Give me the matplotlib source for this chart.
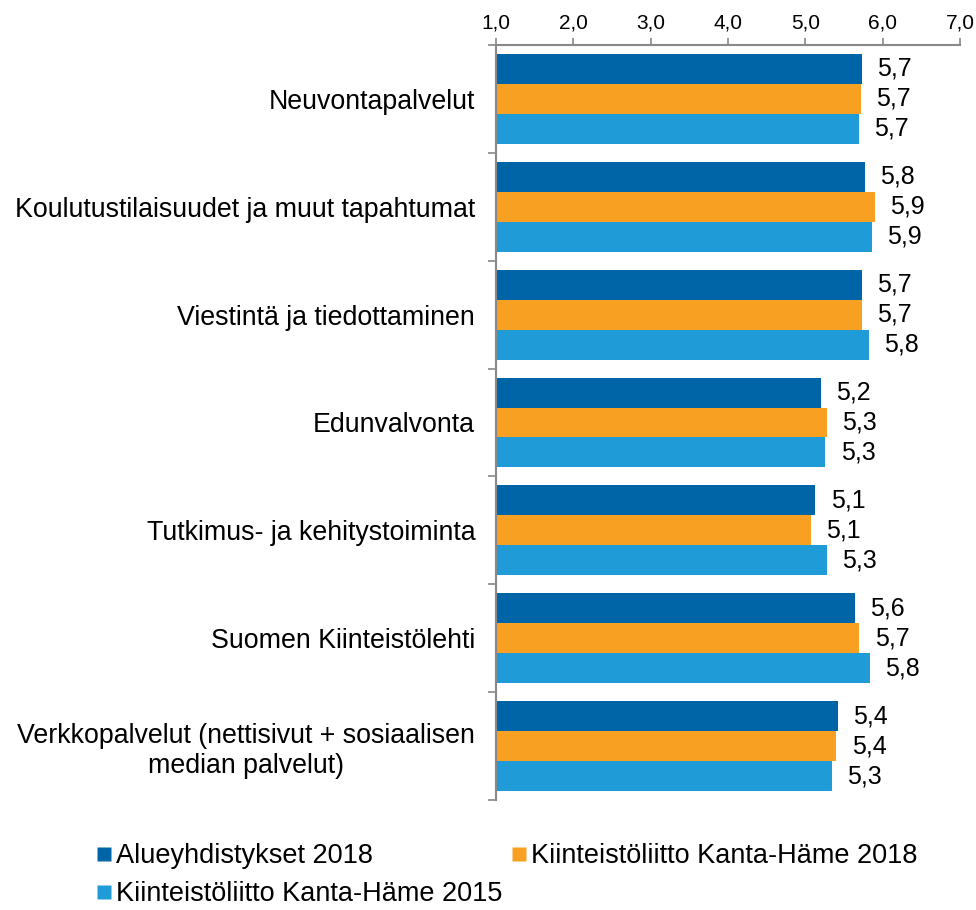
import matplotlib
matplotlib.use("Agg")
import matplotlib.pyplot as plt
import numpy as np
from matplotlib.lines import Line2D

plt.rcParams['font.family'] = ['Liberation Sans', 'DejaVu Sans']

categories = [
    "Neuvontapalvelut",
    "Koulutustilaisuudet ja muut tapahtumat",
    "Viestintä ja tiedottaminen",
    "Edunvalvonta",
    "Tutkimus- ja kehitystoiminta",
    "Suomen Kiinteistölehti",
    "Verkkopalvelut (nettisivut + sosiaalisen\nmedian palvelut)",
]
series_names = ["Alueyhdistykset 2018", "Kiinteistöliitto Kanta-Häme 2018", "Kiinteistöliitto Kanta-Häme 2015"]
alue_2018 = [5.73, 5.77, 5.73, 5.20, 5.13, 5.64, 5.42]
kh_2018 = [5.72, 5.90, 5.73, 5.28, 5.07, 5.70, 5.40]
kh_2015 = [5.69, 5.86, 5.82, 5.26, 5.28, 5.83, 5.34]
labels_alue = ["5,7", "5,8", "5,7", "5,2", "5,1", "5,6", "5,4"]
labels_kh18 = ["5,7", "5,9", "5,7", "5,3", "5,1", "5,7", "5,4"]
labels_kh15 = ["5,7", "5,9", "5,8", "5,3", "5,3", "5,8", "5,3"]
xticks = [1, 2, 3, 4, 5, 6, 7]
xticklabels = ["1,0", "2,0", "3,0", "4,0", "5,0", "6,0", "7,0"]

colors = ["#0065A7", "#F7A021", "#1F9BD7"]

fig = plt.figure(figsize=(9.76, 9.10), dpi=100)
ax = fig.add_axes([496/976, 1-800/910, (960-496)/976, (800-45)/910])

n = len(categories)
y = np.arange(n)
h = 0.278
series = [alue_2018, kh_2018, kh_2015]
labs = [labels_alue, labels_kh18, labels_kh15]
for i, (vals, lab, c) in enumerate(zip(series, labs, colors)):
    pos = y + (i - 1) * h
    ax.barh(pos, np.array(vals) - 1, left=1, height=h, color=c, edgecolor='none')
    for p, v, t in zip(pos, vals, lab):
        ax.annotate(t, (v, p), xytext=(11, 0), textcoords='offset points',
                    va='center', ha='left', fontsize=18)

ax.set_xlim(1, 7)
ax.set_ylim(n - 0.5, -0.5)
ax.xaxis.tick_top()
ax.set_xticks(xticks)
ax.set_xticklabels(xticklabels, fontsize=15)
ax.tick_params(axis='x', direction='out', length=5, color='#888888', width=1.2, pad=4)

ax.set_yticks(y)
ax.set_yticklabels(categories, fontsize=19.3, multialignment='center')
ax.tick_params(axis='y', which='major', length=0, pad=15)
ax.set_yticks(np.arange(n + 1) - 0.5, minor=True)
ax.tick_params(axis='y', which='minor', direction='out', length=6, color='#888888', width=1.2)

for s in ['right', 'bottom']:
    ax.spines[s].set_visible(False)
for s in ['left', 'top']:
    ax.spines[s].set_color('#888888')
    ax.spines[s].set_linewidth(1.5)

handles = [Line2D([], [], marker='s', linestyle='none', markersize=10,
                  markerfacecolor=c, markeredgecolor='none') for c in colors]
order = [0, 2, 1]
fig.legend([handles[k] for k in order], [series_names[k] for k in order],
           loc='upper left', bbox_to_anchor=(96/976, 1-843/910),
           ncol=2, frameon=False, fontsize=19.5, handlelength=0.6, handletextpad=0.15,
           columnspacing=0.3, labelspacing=0.45, borderaxespad=0, borderpad=0)

fig.savefig("out.png", dpi=100)
